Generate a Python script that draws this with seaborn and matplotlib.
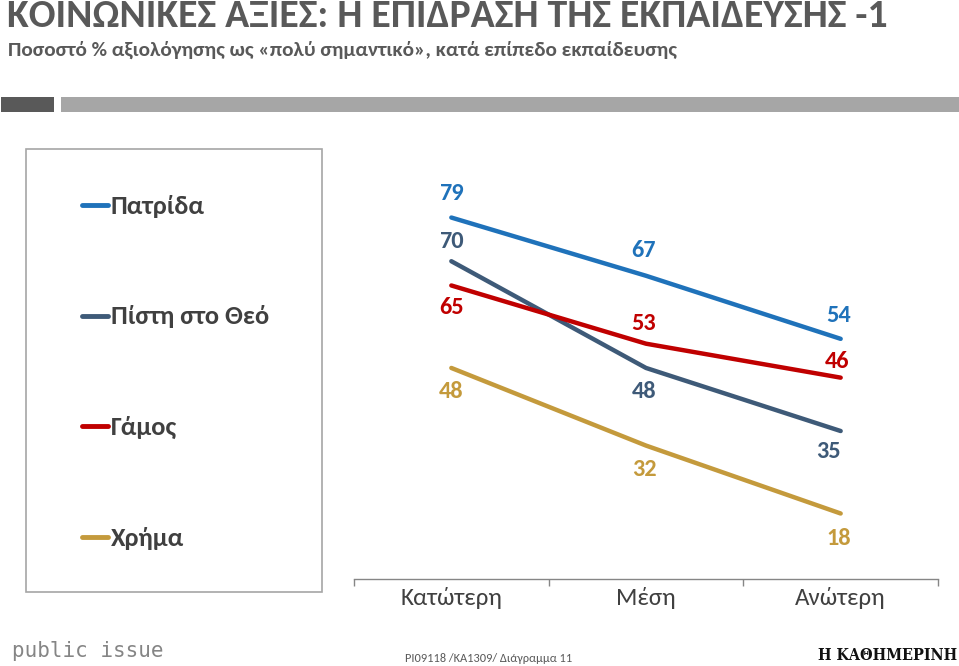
import matplotlib
matplotlib.use("Agg")
import matplotlib.pyplot as plt
import seaborn as sns
import pandas as pd
from matplotlib.patches import Rectangle
from matplotlib.lines import Line2D

# ---------------- data ----------------
categories = ["Κατώτερη", "Μέση", "Ανώτερη"]
series_names = ["Πατρίδα", "Πίστη στο Θεό", "Γάμος", "Χρήμα"]
patrida = [79, 67, 54]
pisti = [70, 48, 35]
gamos = [65, 53, 46]
chrima = [48, 32, 18]

title = "ΚΟΙΝΩΝΙΚΕΣ ΑΞΙΕΣ: Η ΕΠΙΔΡΑΣΗ ΤΗΣ ΕΚΠΑΙΔΕΥΣΗΣ -1"
subtitle = "Ποσοστό % αξιολόγησης ως «πολύ σημαντικό», κατά επίπεδο εκπαίδευσης"
footer_code = "PI09118 /KA1309/ Διάγραμμα 11"

# ---------------- styles ----------------
colors = {"Πατρίδα": "#1F72BA", "Πίστη στο Θεό": "#3E5A78",
          "Γάμος": "#C00000", "Χρήμα": "#C49A3C"}
# label offsets in pixels (dx, dy; +dy = up)
label_offsets = {
    "Πατρίδα": [(0, 24), (-2, 25), (-2, 23)],
    "Πίστη στο Θεό": [(0, 20), (-2, -24), (-12, -20)],
    "Γάμος": [(0, -22), (-2, 20), (-4, 16)],
    "Χρήμα": [(0, -24), (-2, -24), (-2, -25)],
}

sns.set_theme(style="white")
plt.rcParams["font.family"] = ["Carlito", "DejaVu Sans"]

W, H = 959, 666
fig = plt.figure(figsize=(W / 100, H / 100), dpi=100)
fig.patch.set_facecolor("white")

def fx(px):
    return px / W

def fy(py):
    return 1 - py / H

# ---------------- header ----------------
fig.text(fx(7), fy(16), title, fontsize=28.6, color="#595959", fontweight="bold",
         va="center", ha="left")
fig.text(fx(8), fy(50), subtitle, fontsize=15.3, color="#595959", fontweight="bold",
         va="center", ha="left")
fig.patches.append(Rectangle((fx(1), fy(112)), fx(53), (112 - 97) / H,
                             transform=fig.transFigure, facecolor="#595959",
                             edgecolor="none"))
fig.patches.append(Rectangle((fx(61), fy(112)), fx(898), (112 - 97) / H,
                             transform=fig.transFigure, facecolor="#A6A6A6",
                             edgecolor="none"))

# ---------------- legend box ----------------
fig.patches.append(Rectangle((fx(26), fy(592)), fx(322 - 26), (592 - 149) / H,
                             transform=fig.transFigure, facecolor="none",
                             edgecolor="#A6A6A6", linewidth=1.2))
legend_y = [205, 316, 426, 537]
for name, ly in zip(series_names, legend_y):
    fig.lines.append(Line2D([fx(82), fx(108)], [fy(ly), fy(ly)],
                            transform=fig.transFigure, color=colors[name],
                            linewidth=3.5, solid_capstyle="round"))
    fig.text(fx(111), fy(ly + 1), name, fontsize=19, color="#404040",
             fontweight="bold", va="center", ha="left")

# ---------------- main plot ----------------
df = pd.DataFrame({
    "Επίπεδο": categories * 4,
    "Σειρά": sum([[n] * 3 for n in series_names], []),
    "Τιμή": patrida + pisti + gamos + chrima,
})

ax = fig.add_axes([fx(354), fy(579), fx(938 - 354), (579 - 170) / H])
sns.lineplot(data=df, x="Επίπεδο", y="Τιμή", hue="Σειρά", palette=colors,
             sort=False, legend=False, linewidth=3.2, ax=ax)
ax.set_xlim(-0.5, 2.5)
ax.set_ylim(4.5, 88.8)
ax.set_xlabel("")
ax.set_ylabel("")
ax.set_yticks([])
for s in ["top", "right", "left"]:
    ax.spines[s].set_visible(False)
ax.spines["bottom"].set_color("#868686")
ax.spines["bottom"].set_linewidth(1.0)
ax.set_xticks([-0.5, 0.5, 1.5, 2.5])
ax.set_xticklabels([])
ax.set_xticks([0, 1, 2], minor=True)
ax.set_xticklabels(categories, minor=True)
ax.tick_params(axis="x", which="major", length=5, width=1, color="#868686",
               direction="out", bottom=True)
ax.tick_params(axis="x", which="minor", length=0, pad=6, labelsize=18,
               labelcolor="#404040")
ax.patch.set_alpha(0)

series_values = {"Πατρίδα": patrida, "Πίστη στο Θεό": pisti,
                 "Γάμος": gamos, "Χρήμα": chrima}
for name in series_names:
    for i, v in enumerate(series_values[name]):
        dx, dy = label_offsets[name][i]
        ax.annotate(str(v), (i, v), xytext=(dx * 0.72, dy * 0.72),
                    textcoords="offset points", ha="center", va="center",
                    fontsize=17.5, fontweight="bold", color=colors[name])

# ---------------- footer ----------------
fig.text(fx(12), fy(651), "public issue", fontsize=15, color="#858585",
         family=["DejaVu Sans Mono"], va="center", ha="left")
fig.text(fx(405), fy(658), footer_code, fontsize=8.9, color="#595959",
         va="center", ha="left")
fig.text(fx(957), fy(655), "Η ΚΑΘΗΜΕΡΙΝΗ", fontsize=11.5, color="#111111",
         family=["DejaVu Serif"], fontstretch="condensed", fontweight="bold",
         va="center", ha="right")

fig.savefig("out.png", dpi=100)
